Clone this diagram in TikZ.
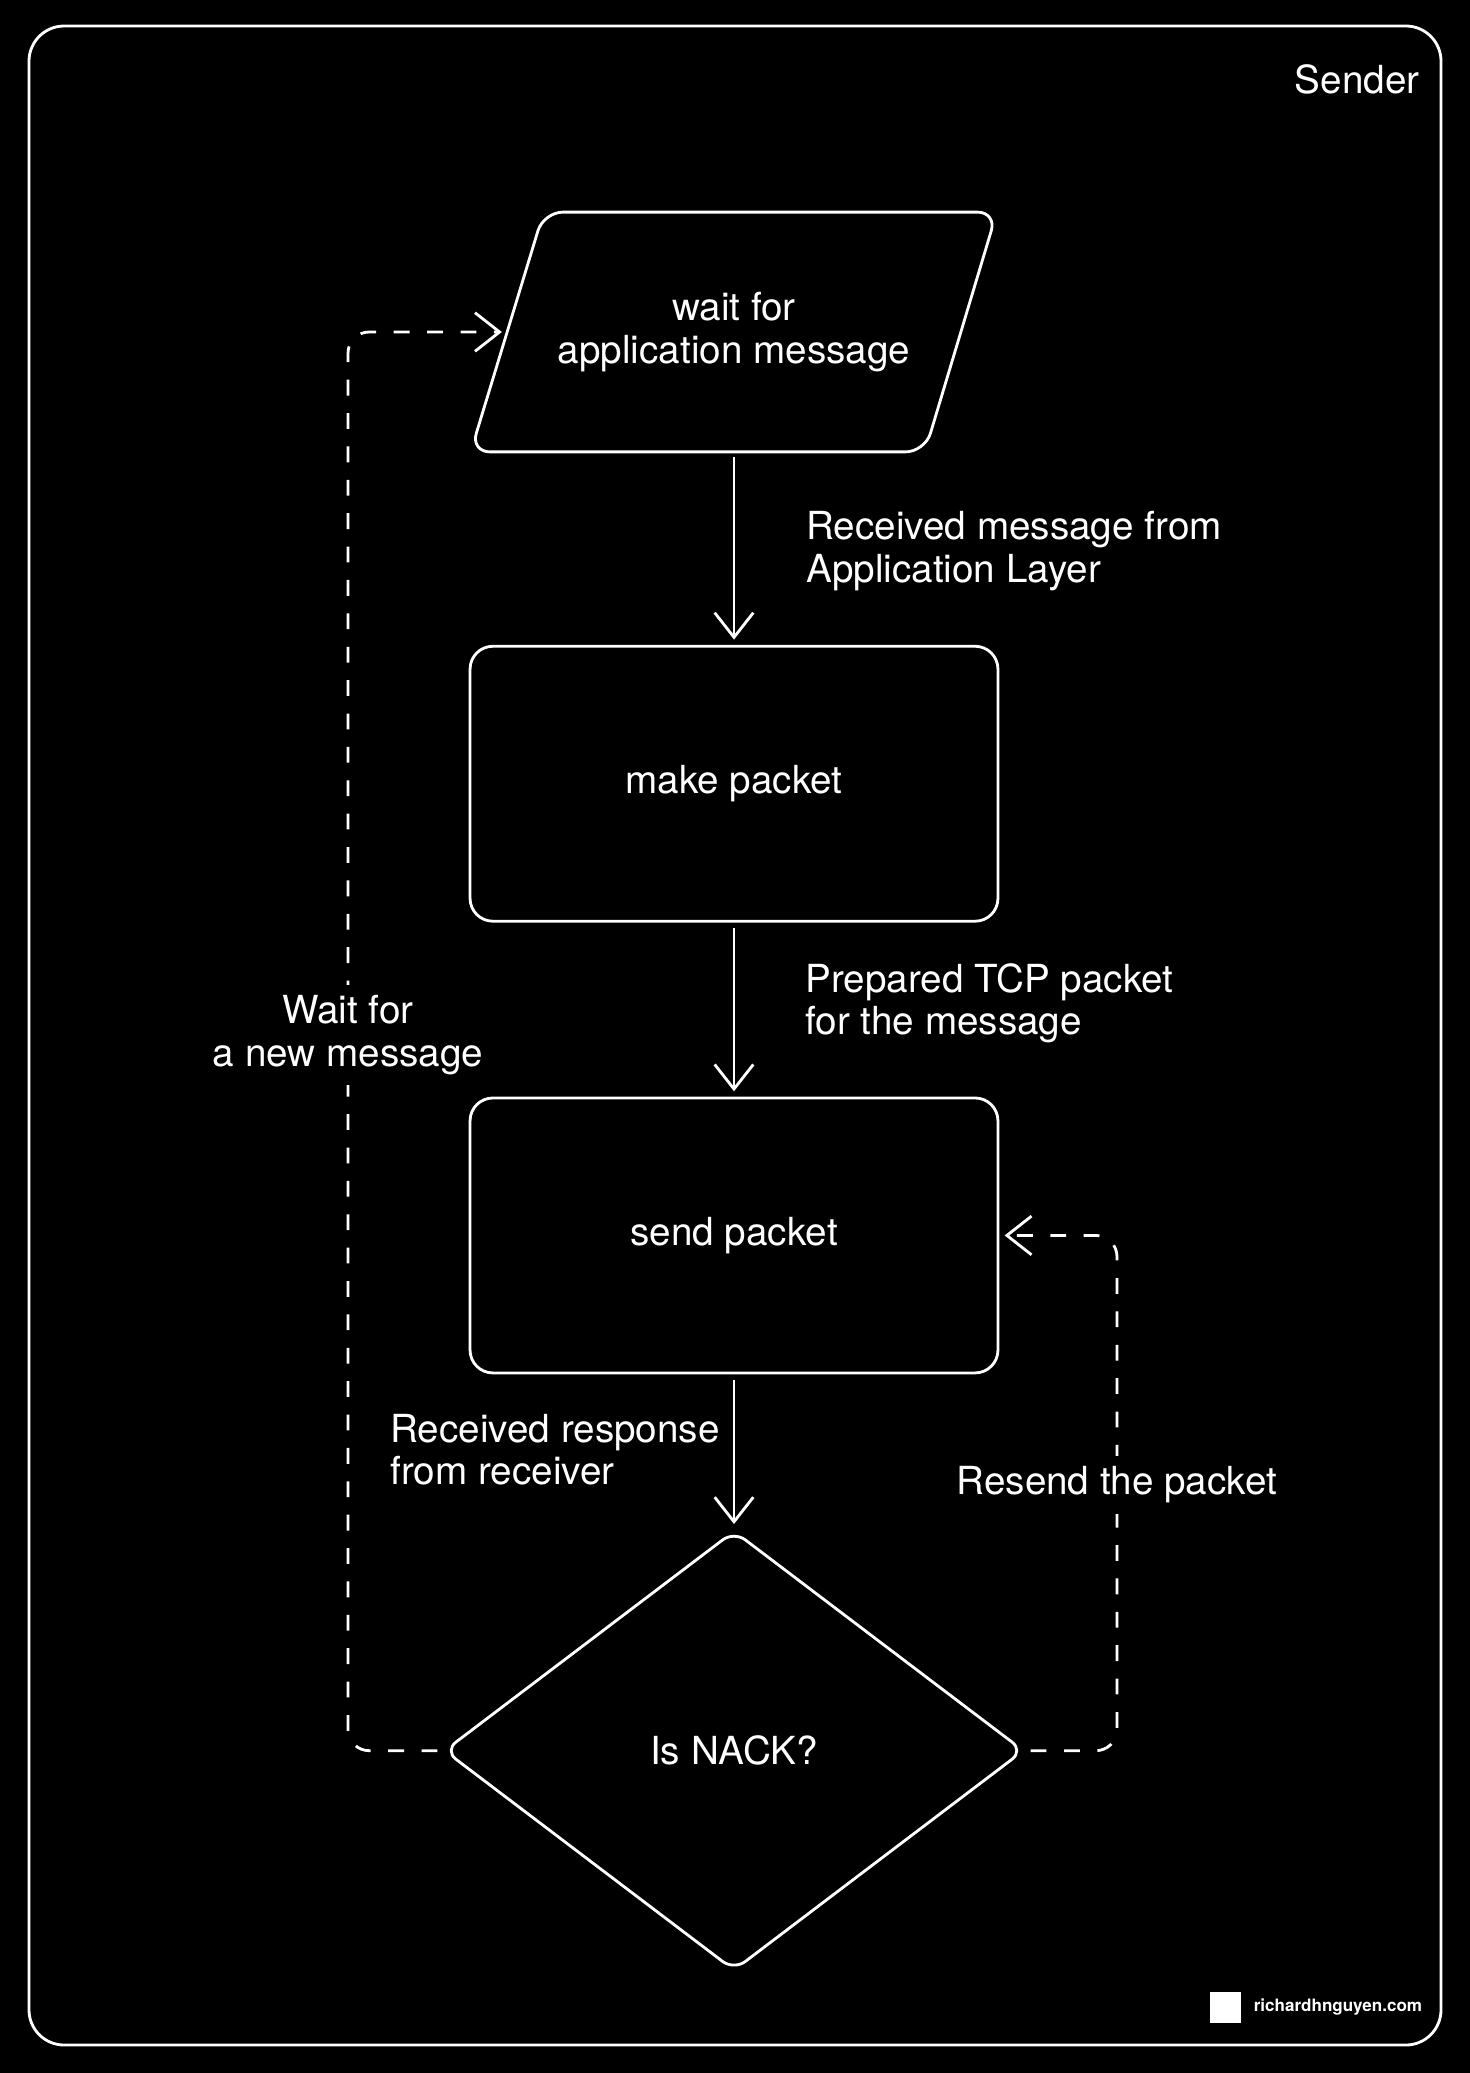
\documentclass[tikz,border=0pt]{standalone}
\usepackage{fontspec}
\setmainfont{TeX Gyre Heros}
\usetikzlibrary{arrows.meta, positioning, shapes.geometric}

\begin{document}
\begin{tikzpicture}[x=0.02cm, y=-0.02cm, color=white, text=white,
  font=\fontsize{22}{24}\selectfont, line width=1.6pt,
  io/.style={minimum width=9.02cm, minimum height=4.74cm, align=center, inner sep=0pt},
  slant/.style={rounded corners=11pt},
  box/.style={draw, rounded corners=13pt, align=center,
              minimum width=10.56cm, minimum height=5.5cm},
  dec/.style={draw, diamond, minimum width=11.6cm, minimum height=8.8cm,
              inner sep=0pt, rounded corners=8pt},
  lbl/.style={align=left, anchor=west, inner sep=0pt},
  gaplbl/.style={align=center, fill=black, inner sep=6pt},
  a/.style={-{Straight Barb[length=14pt, width=22pt]}, shorten <=3pt, shorten >=3pt},
  back/.style={a, dash pattern=on 9pt off 10pt, rounded corners=12pt}]
\fill[black] (0,0) rectangle (1470,2073);
\useasboundingbox (0,0) rectangle (1470,2073);
\draw[rounded corners=20pt] (29,26) rectangle (1441,2045);
\node[anchor=east, inner sep=0pt] (sender) at (1421,79) {Sender};

\node[io] (wait) at (734,332) {wait for\\application message};
\draw[slant] ([xshift=-0.73cm]wait.south west) -- ([xshift=0.73cm]wait.north west)
  -- ([xshift=0.72cm]wait.north east) -- ([xshift=-0.72cm]wait.south east) -- cycle;
\node[box, below=3.86cm of wait] (make) {make packet};
\node[box, below=3.48cm of make] (send) {send packet};
\node[dec, below=3.1cm of send] (nack) {Is NACK?};
\coordinate (lft) at (348,1000);
\coordinate (rgt) at (1117,1500);

\draw[a] (wait) -- (make);
\draw[a] (make) -- (send);
\draw[a] (send) -- (nack);
\draw[back] (nack.west) -| (lft) |- (wait.west);
\draw[back] (nack.east) -| (rgt) |- (send.east);

\node[lbl] (lblrecv) at (805,551) {Received message from\\Application Layer};
\node[lbl] (lblprep) at (804,1003) {Prepared TCP packet\\for the message};
\node[lbl] (lblresp) at (389,1450) {Received response\\from receiver};
\node[gaplbl] (lblnew) at (348,1035) {Wait for\\a new message};
\node[gaplbl] (lblresend) at (1117,1485) {Resend the packet};

% watermark
\node[fill=white, minimum size=0.62cm, inner sep=0pt] (wmbox) at (1225.5,2007) {};
\node[right=0.2cm of wmbox, inner sep=0pt, font=\fontsize{9.7}{11}\selectfont\bfseries] (wm) {richardhnguyen.com};
\end{tikzpicture}
\end{document}
